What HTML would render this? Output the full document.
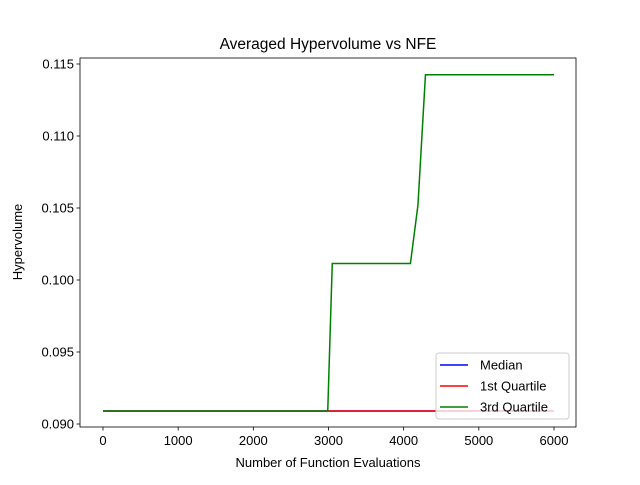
<!DOCTYPE html>
<html><head><meta charset="utf-8"><style>body{margin:0;background:#fff}svg{font-family:"Liberation Sans","DejaVu Sans",sans-serif}</style></head>
<body>
<svg id="c" width="640" height="480"></svg>
<script>
const xs=[0,2990,3050,4090,4190,4290,6000];
const median=[0.0909,0.0909,0.0909,0.0909,0.0909,0.0909,0.0909];
const q1=[0.0909,0.0909,0.0909,0.0909,0.0909,0.0909,0.0909];
const q3=[0.0909,0.0909,0.10115,0.10115,0.1052,0.11425,0.11425];
const xTicks=[0,1000,2000,3000,4000,5000,6000];
const yTicks=[0.090,0.095,0.100,0.105,0.110,0.115];
const L=80,R=576,T=58,B=427;
const X=v=>103+v*451/6000;
const Y=v=>64+(0.115-v)*14400;
const s=document.getElementById('c');const N='http://www.w3.org/2000/svg';
function el(t,a,p){const e=document.createElementNS(N,t);for(const k in a)e.setAttribute(k,a[k]);(p||s).appendChild(e);return e;}
function txt(x,y,t,a){const e=el('text',Object.assign({x:x,y:y,'font-size':13,fill:'#000'},a||{}));e.textContent=t;return e;}
const series=[[median,'#0000ff','median-line'],[q1,'#ff0000','q1-line'],[q3,'#008000','q3-line']];
series.forEach(([d,c,n])=>{const p=el('polyline',{points:xs.map((x,i)=>X(x)+','+Y(d[i])).join(' '),fill:'none',stroke:c,'stroke-width':1.5});
});
const fr=el('rect',{x:L,y:T,width:R-L,height:B-T,fill:'none',stroke:'#000','stroke-width':0.8});

xTicks.forEach(v=>{el('line',{x1:X(v),x2:X(v),y1:B,y2:B+3.5,stroke:'#000','stroke-width':0.8});
const t=txt(X(v),B+18,String(v),{'text-anchor':'middle'});});
yTicks.forEach(v=>{el('line',{x1:L-3.5,x2:L,y1:Y(v),y2:Y(v),stroke:'#000','stroke-width':0.8});
const t=txt(L-6,Y(v)+4.5,v.toFixed(3),{'text-anchor':'end'});});
let t=txt(328,49,'Averaged Hypervolume vs NFE',{'text-anchor':'middle','font-size':15.5});
t=txt(328,467,'Number of Function Evaluations',{'text-anchor':'middle'});
t=txt(22,242,'Hypervolume',{'text-anchor':'middle',transform:'rotate(-90 22 242)'});
const lg=el('g',{});
el('rect',{x:436,y:353,width:133,height:66,rx:3,fill:'#fff','fill-opacity':0.8,stroke:'#ccc'},lg);
[['Median','#0000ff'],['1st Quartile','#ff0000'],['3rd Quartile','#008000']].forEach(([n,c],i)=>{const y=365+i*21;
el('line',{x1:440,x2:468,y1:y,y2:y,stroke:c,'stroke-width':1.5},lg);
const e=el('text',{x:480,y:y+4.5,'font-size':13},lg);e.textContent=n;});
</script>
</body></html>
